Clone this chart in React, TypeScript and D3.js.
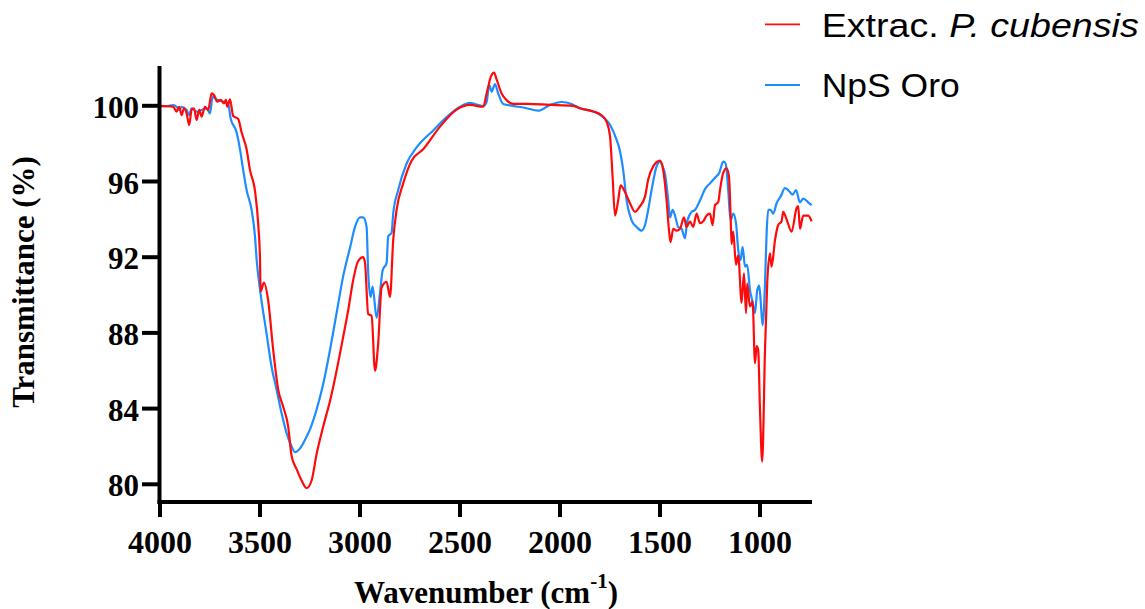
import React from "react";
import * as d3 from "d3";

const xTicks = [4000, 3500, 3000, 2500, 2000, 1500, 1000];
const yTicks = [80, 84, 88, 92, 96, 100];
const seriesNames = ["Extrac. ", "P. cubensis", "NpS Oro"];

// [wavenumber (cm-1), transmittance (%)]
const extracSpectrum: [number, number][] = [
  [4000, 100.0], [3975, 99.98], [3950, 99.97], [3933, 99.95], [3917, 99.69], [3904, 99.95], [3892, 99.51],
  [3880, 99.87], [3867, 99.6], [3854, 98.99], [3842, 99.78], [3830, 99.87], [3817, 99.25], [3804, 99.78],
  [3792, 99.43], [3775, 99.95], [3759, 99.78], [3742, 100.66], [3730, 100.57], [3714, 100.22], [3697, 100.31],
  [3680, 100.13], [3670, 100.31], [3664, 99.95], [3650, 100.34], [3634, 99.46], [3609, 99.3], [3592, 98.6],
  [3567, 97.7], [3550, 96.6], [3525, 95.5], [3508, 93.6], [3500, 91.9], [3497, 90.2], [3480, 90.66],
  [3459, 89.7], [3434, 87.1], [3409, 85.0], [3384, 84.1], [3359, 83.05], [3342, 81.5], [3317, 80.8],
  [3292, 80.2], [3267, 79.8], [3242, 80.2], [3217, 81.6], [3184, 83.05], [3150, 84.4], [3117, 86.0],
  [3084, 87.8], [3059, 89.2], [3034, 90.8], [3009, 91.8], [2984, 92.0], [2975, 91.7], [2959, 89.0],
  [2942, 88.9], [2925, 86.0], [2909, 87.45], [2892, 90.4], [2867, 90.7], [2850, 89.9], [2834, 92.9],
  [2817, 94.5], [2784, 95.9], [2742, 97.1], [2684, 97.7], [2600, 98.9], [2517, 99.8], [2450, 100.05],
  [2384, 99.95], [2367, 100.65], [2359, 101.0], [2350, 101.4], [2330, 101.75], [2317, 101.4], [2292, 100.65],
  [2267, 100.3], [2234, 100.1], [2167, 100.1], [2050, 100.05], [1934, 100.0], [1900, 99.87], [1834, 99.7],
  [1792, 99.5], [1767, 99.15], [1750, 98.4], [1737, 96.25], [1725, 94.2], [1709, 95.0], [1697, 95.8],
  [1675, 95.45], [1650, 94.85], [1625, 94.4], [1600, 94.7], [1575, 95.2], [1559, 96.1], [1534, 96.8],
  [1500, 97.1], [1484, 96.6], [1467, 95.0], [1454, 93.3], [1447, 92.8], [1434, 93.5], [1417, 93.4],
  [1400, 93.5], [1380, 94.1], [1367, 93.6], [1350, 93.9], [1334, 93.6], [1317, 94.3], [1300, 93.8],
  [1284, 93.9], [1267, 94.2], [1250, 94.3], [1237, 93.7], [1225, 94.75], [1209, 94.9], [1200, 95.55],
  [1184, 96.45], [1167, 96.7], [1155, 96.25], [1147, 94.15], [1142, 92.7], [1134, 93.35], [1120, 91.6],
  [1109, 92.1], [1092, 89.6], [1080, 91.15], [1070, 89.05], [1064, 90.6], [1050, 89.4], [1037, 89.65],
  [1025, 86.4], [1017, 87.3], [1009, 87.1], [1000, 83.9], [989, 81.2], [975, 87.1], [964, 90.6],
  [950, 92.2], [942, 91.5], [925, 92.9], [909, 93.7], [892, 93.9], [884, 94.4], [867, 94.0],
  [842, 93.35], [817, 94.6], [809, 94.7], [800, 93.5], [784, 94.2], [759, 94.2], [742, 93.9],
];

const npsSpectrum: [number, number][] = [
  [4000, 100.0], [3967, 99.98], [3934, 100.04], [3917, 99.95], [3904, 99.78], [3892, 99.95], [3867, 99.78],
  [3854, 99.51], [3842, 99.87], [3817, 99.69], [3792, 99.78], [3767, 99.87], [3750, 99.6], [3737, 100.48],
  [3717, 100.34], [3684, 100.22], [3659, 100.13], [3647, 99.34], [3617, 98.6], [3600, 97.7], [3584, 96.6],
  [3567, 95.55], [3542, 94.5], [3525, 93.1], [3517, 91.9], [3500, 90.3], [3467, 87.95], [3442, 86.2],
  [3417, 85.0], [3392, 83.75], [3367, 82.7], [3342, 82.0], [3325, 81.7], [3300, 81.9], [3275, 82.35],
  [3250, 82.9], [3217, 83.95], [3184, 85.3], [3150, 87.1], [3117, 89.05], [3084, 91.0], [3050, 92.5],
  [3025, 93.6], [3000, 94.1], [2984, 94.1], [2967, 93.6], [2959, 91.2], [2947, 89.9], [2937, 90.45],
  [2917, 88.8], [2900, 90.1], [2887, 91.3], [2867, 91.7], [2859, 93.1], [2842, 93.3], [2834, 94.3],
  [2809, 95.55], [2767, 96.95], [2717, 97.8], [2634, 98.7], [2567, 99.4], [2500, 99.95], [2450, 100.15],
  [2384, 99.99], [2367, 100.2], [2354, 101.1], [2342, 100.75], [2325, 101.15], [2309, 100.65], [2284, 100.1],
  [2234, 100.0], [2167, 99.87], [2109, 99.74], [2050, 100.05], [1992, 100.2], [1942, 100.1], [1900, 99.87],
  [1834, 99.7], [1784, 99.4], [1750, 99.0], [1717, 98.2], [1700, 97.6], [1684, 96.6], [1667, 95.0],
  [1642, 93.95], [1617, 93.6], [1592, 93.4], [1575, 93.7], [1559, 94.5], [1542, 95.55], [1517, 96.8],
  [1500, 97.05], [1487, 96.8], [1475, 96.4], [1459, 95.0], [1450, 94.1], [1437, 94.5], [1425, 94.2],
  [1409, 93.6], [1392, 93.5], [1375, 93.0], [1364, 93.9], [1342, 94.4], [1325, 94.5], [1300, 95.0],
  [1275, 95.6], [1250, 95.9], [1225, 96.2], [1204, 96.45], [1184, 97.05], [1172, 96.95], [1159, 95.55],
  [1147, 93.95], [1134, 94.3], [1120, 93.8], [1109, 92.4], [1097, 91.85], [1087, 92.55], [1075, 91.5],
  [1064, 91.6], [1050, 90.25], [1037, 89.65], [1025, 89.05], [1014, 90.25], [1004, 90.5], [997, 89.75],
  [987, 88.4], [975, 90.6], [967, 93.25], [959, 94.5], [947, 94.5], [934, 94.3], [917, 94.85],
  [897, 95.2], [875, 95.65], [859, 95.55], [837, 95.3], [820, 95.55], [800, 94.9], [784, 95.1],
  [759, 94.9], [742, 94.75],
];

const RED = "#FF0A0A";
const BLUE = "#1E8CFF";
const SERIF = "'Liberation Serif', 'Times New Roman', Times, serif";
const SANS = "'Liberation Sans', Arial, Helvetica, sans-serif";

export default function App() {
  const W = 1145, H = 609;
  const x = d3.scaleLinear().domain([4000, 740]).range([160, 812]);
  const y = d3.scaleLinear().domain([80, 100]).range([484.3, 105.8]);
  const axisTop = 66, axisBottom = 502, axisLeft = 159.5;

  const line = d3
    .line<[number, number]>()
    .x((d) => x(d[0]))
    .y((d) => y(d[1]))
    .curve(d3.curveMonotoneX);

  return (
    <svg width={W} height={H} style={{ position: "absolute", left: 0, top: 0, background: "#fff" }}>
      {/* data */}
      <path d={line(npsSpectrum) || ""} fill="none" stroke={BLUE} strokeWidth={2.2} strokeLinejoin="round" />
      <path d={line(extracSpectrum) || ""} fill="none" stroke={RED} strokeWidth={2.2} strokeLinejoin="round" />

      {/* axes */}
      <line x1={axisLeft} x2={axisLeft} y1={axisTop} y2={axisBottom + 2} stroke="#000" strokeWidth={4} />
      <line x1={axisLeft - 2} x2={812} y1={axisBottom} y2={axisBottom} stroke="#000" strokeWidth={4} />

      {yTicks.map((t) => (
        <g key={"y" + t}>
          <line x1={142} x2={axisLeft} y1={y(t)} y2={y(t)} stroke="#000" strokeWidth={4} />
          <text x={139} y={y(t) + 12} textAnchor="end" fontFamily={SERIF} fontWeight="bold" fontSize={31} fill="#000">
            {t}
          </text>
        </g>
      ))}
      {xTicks.map((t) => (
        <g key={"x" + t}>
          <line x1={x(t)} x2={x(t)} y1={axisBottom} y2={517} stroke="#000" strokeWidth={4} />
          <text x={x(t)} y={553} textAnchor="middle" fontFamily={SERIF} fontWeight="bold" fontSize={32} fill="#000">
            {t}
          </text>
        </g>
      ))}

      {/* axis titles */}
      <text x={486} y={603} textAnchor="middle" fontFamily={SERIF} fontWeight="bold" fontSize={31} fill="#000">
        Wavenumber (cm
        <tspan fontSize={21} dy={-15}>-1</tspan>
        <tspan dy={15}>)</tspan>
      </text>
      <text
        transform="translate(33.5,282) rotate(-90)"
        textAnchor="middle"
        fontFamily={SERIF}
        fontWeight="bold"
        fontSize={31}
        fill="#000"
      >
        Transmittance (%)
      </text>

      {/* legend */}
      <line x1={765} x2={800} y1={24.3} y2={24.3} stroke={RED} strokeWidth={1.8} />
      <text x={821.7} y={37.3} fontFamily={SANS} fontSize={34} fill="#000" textLength={317} lengthAdjust="spacingAndGlyphs">
        {seriesNames[0]}
        <tspan fontStyle="italic">{seriesNames[1]}</tspan>
      </text>
      <line x1={765} x2={800} y1={85} y2={85} stroke={BLUE} strokeWidth={1.8} />
      <text x={821.7} y={97.3} fontFamily={SANS} fontSize={34} fill="#000" textLength={138} lengthAdjust="spacingAndGlyphs">
        {seriesNames[2]}
      </text>
    </svg>
  );
}
